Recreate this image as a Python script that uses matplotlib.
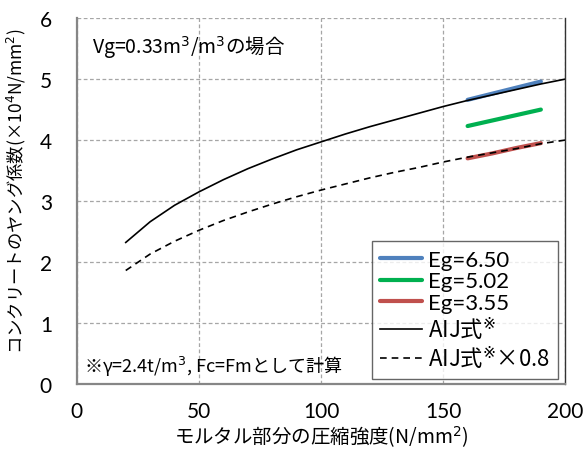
import matplotlib
matplotlib.use("Agg")
import matplotlib.pyplot as plt

jp = ['Noto Sans CJK JP', 'DejaVu Sans']
lat = ['Lato', 'DejaVu Sans']
plt.rcParams['font.family'] = jp

# AIJ式 (読み取り値)
fc = [20, 30, 40, 50, 60, 70, 80, 90, 100, 110, 120, 130, 140, 150, 160, 170, 180, 190, 200]
aij = [2.32, 2.66, 2.93, 3.15, 3.35, 3.53, 3.69, 3.84, 3.97, 4.10, 4.22, 4.33, 4.44, 4.55, 4.65, 4.74, 4.83, 4.92, 5.00]
aij08 = [1.86, 2.13, 2.34, 2.52, 2.68, 2.82, 2.95, 3.07, 3.18, 3.28, 3.38, 3.47, 3.55, 3.64, 3.72, 3.79, 3.86, 3.94, 4.00]

# Eg系列
fm = [160, 170, 180, 190]
eg650 = [4.66, 4.76, 4.86, 4.96]
eg502 = [4.23, 4.32, 4.41, 4.50]
eg355 = [3.70, 3.78, 3.87, 3.95]

fig = plt.figure(figsize=(5.87, 4.56), dpi=100)
ax = fig.add_axes([0.131, 0.156, 0.832, 0.802])

ax.plot(fm, eg650, color='#4f81bd', lw=3, label='Eg=6.50', solid_capstyle='round')
ax.plot(fm, eg502, color='#00b050', lw=3, label='Eg=5.02', solid_capstyle='round')
ax.plot(fm, eg355, color='#c0504d', lw=3, label='Eg=3.55', solid_capstyle='round')
ax.plot(fc, aij, color='black', lw=1.2, label='AIJ式$^{※}$')
ax.plot(fc, aij08, color='black', lw=1.2, ls=(0, (4, 3)), label='AIJ式$^{※}$×0.8')

ax.set_xlim(0, 200)
ax.set_ylim(0, 6)
ax.set_xticks([0, 50, 100, 150, 200])
ax.set_yticks(range(7))
ax.tick_params(length=0, labelsize=15)
ax.tick_params(axis='x', pad=12)
ax.tick_params(axis='y', pad=18)
for t in ax.get_xticklabels() + ax.get_yticklabels():
    t.set_family(lat)
ax.grid(True, color='#a6a6a6', ls=(0, (3, 2)), lw=0.9)
ax.set_axisbelow(True)

for s in ['left', 'bottom']:
    ax.spines[s].set_color('#868686')
    ax.spines[s].set_linewidth(1.6)
ax.spines['top'].set_visible(False)
ax.spines['right'].set_color('#333333')
ax.spines['right'].set_linewidth(1.0)

ax.set_xlabel('モルタル部分の圧縮強度(N/mm$^2$)', fontsize=14, va='center')
ax.xaxis.set_label_coords(0.5, -0.143)
ax.set_ylabel('コンクリートのヤング係数(×10$^4$N/mm$^2$)', fontsize=12.5, va='center')
ax.yaxis.set_label_coords(-0.123, 0.53)

ax.text(6, 5.54, 'Vg=0.33m$^3$/m$^3$の場合', fontsize=14, va='center')
ax.text(3, 0.30, '※γ=2.4t/m$^3$, Fc=Fmとして計算', fontsize=13, va='center')

leg = ax.legend(loc='lower right', bbox_to_anchor=(0.986, 0.012), fontsize=16,
                handlelength=1.9, handletextpad=0.25, labelspacing=0.08,
                borderpad=0.38, borderaxespad=0, frameon=True, fancybox=False)
for t in leg.get_texts()[:3]:
    t.set_family(lat)
leg.get_frame().set_edgecolor('#404040')
leg.get_frame().set_linewidth(1.0)

fig.savefig('out.png', dpi=100)
